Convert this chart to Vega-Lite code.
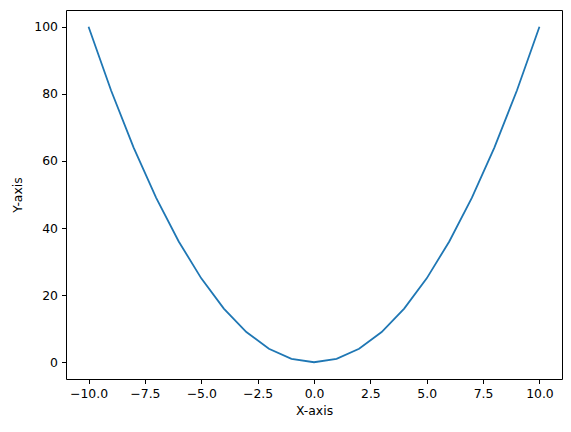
{
  "$schema": "https://vega.github.io/schema/vega-lite/v6.json",
  "autosize": "none",
  "width": 496,
  "height": 369,
  "padding": {"left": 66, "top": 10, "right": 9, "bottom": 53},
  "background": "white",
  "config": {
    "view": {"stroke": "black", "strokeWidth": 1},
    "font": "DejaVu Sans",
    "axis": {
      "grid": false,
      "domain": false,
      "tickColor": "black",
      "tickSize": 4.5,
      "tickWidth": 1,
      "labelFont": "DejaVu Sans",
      "labelFontSize": 12.4,
      "labelColor": "black",
      "labelPadding": 4,
      "titleFont": "DejaVu Sans",
      "titleFontSize": 12.4,
      "titleFontWeight": "normal",
      "titleColor": "black"
    }
  },
  "data": {
    "values": [
      {"x": -10, "y": 100}, {"x": -9, "y": 81}, {"x": -8, "y": 64}, {"x": -7, "y": 49},
      {"x": -6, "y": 36}, {"x": -5, "y": 25}, {"x": -4, "y": 16}, {"x": -3, "y": 9},
      {"x": -2, "y": 4}, {"x": -1, "y": 1}, {"x": 0, "y": 0}, {"x": 1, "y": 1},
      {"x": 2, "y": 4}, {"x": 3, "y": 9}, {"x": 4, "y": 16}, {"x": 5, "y": 25},
      {"x": 6, "y": 36}, {"x": 7, "y": 49}, {"x": 8, "y": 64}, {"x": 9, "y": 81},
      {"x": 10, "y": 100}
    ]
  },
  "mark": {"type": "line", "color": "#1f77b4", "strokeWidth": 1.8, "clip": true},
  "encoding": {
    "x": {
      "field": "x", "type": "quantitative", "title": "X-axis",
      "scale": {"domain": [-11, 11], "nice": false, "zero": false},
      "axis": {"values": [-10, -7.5, -5, -2.5, 0, 2.5, 5, 7.5, 10], "format": ".1f", "titlePadding": 5, "labelFlush": false}
    },
    "y": {
      "field": "y", "type": "quantitative", "title": "Y-axis",
      "scale": {"domain": [-5, 105], "nice": false, "zero": false},
      "axis": {"values": [0, 20, 40, 60, 80, 100], "titlePadding": 9, "labelFlush": false}
    }
  }
}
